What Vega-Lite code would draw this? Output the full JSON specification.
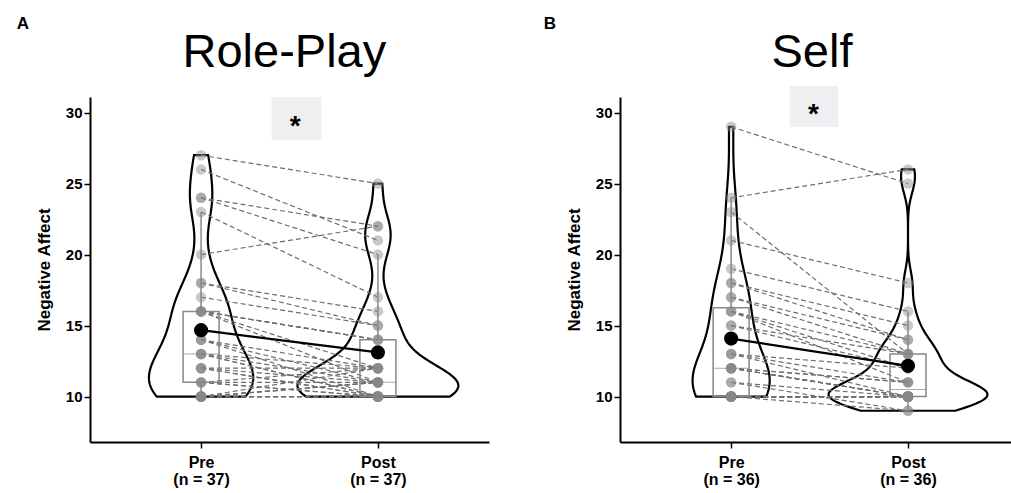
{
  "$schema": "https://vega.github.io/schema/vega-lite/v6.json",
  "padding": {"left": 16, "top": 15, "right": 0, "bottom": 0},
  "spacing": 54,
  "config": {
    "view": {"stroke": null},
    "font": "Liberation Sans",
    "axis": {"grid": false, "domainColor": "black", "domainWidth": 2, "tickColor": "black", "tickWidth": 1.5, "tickSize": 6, "labelColor": "black", "labelFont": "Liberation Sans", "labelFontWeight": "bold", "labelFontSize": 15, "titleFont": "Liberation Sans", "titleFontSize": 17, "titleFontWeight": "bold", "titleColor": "black"},
    "axisY": {"labelPadding": 2, "titlePadding": 12},
    "axisX": {"labelPadding": 6, "labelLineHeight": 17.5, "labelBaseline": "top", "labelFontSize": 16}
  },
  "data": {"values": [
    {"p":"A","id":1,"t":1,"v":27},{"p":"A","id":1,"t":2,"v":25},
    {"p":"A","id":2,"t":1,"v":26},{"p":"A","id":2,"t":2,"v":21},
    {"p":"A","id":3,"t":1,"v":24},{"p":"A","id":3,"t":2,"v":22},
    {"p":"A","id":4,"t":1,"v":24},{"p":"A","id":4,"t":2,"v":20},
    {"p":"A","id":5,"t":1,"v":23},{"p":"A","id":5,"t":2,"v":17},
    {"p":"A","id":6,"t":1,"v":20},{"p":"A","id":6,"t":2,"v":22},
    {"p":"A","id":7,"t":1,"v":18},{"p":"A","id":7,"t":2,"v":16},
    {"p":"A","id":8,"t":1,"v":18},{"p":"A","id":8,"t":2,"v":15},
    {"p":"A","id":9,"t":1,"v":17},{"p":"A","id":9,"t":2,"v":15},
    {"p":"A","id":10,"t":1,"v":16},{"p":"A","id":10,"t":2,"v":14},
    {"p":"A","id":11,"t":1,"v":16},{"p":"A","id":11,"t":2,"v":14},
    {"p":"A","id":12,"t":1,"v":16},{"p":"A","id":12,"t":2,"v":14},
    {"p":"A","id":13,"t":1,"v":16},{"p":"A","id":13,"t":2,"v":12},
    {"p":"A","id":14,"t":1,"v":16},{"p":"A","id":14,"t":2,"v":11},
    {"p":"A","id":15,"t":1,"v":14},{"p":"A","id":15,"t":2,"v":12},
    {"p":"A","id":16,"t":1,"v":14},{"p":"A","id":16,"t":2,"v":11},
    {"p":"A","id":17,"t":1,"v":14},{"p":"A","id":17,"t":2,"v":10},
    {"p":"A","id":18,"t":1,"v":13},{"p":"A","id":18,"t":2,"v":12},
    {"p":"A","id":19,"t":1,"v":13},{"p":"A","id":19,"t":2,"v":11},
    {"p":"A","id":20,"t":1,"v":13},{"p":"A","id":20,"t":2,"v":10},
    {"p":"A","id":21,"t":1,"v":13},{"p":"A","id":21,"t":2,"v":10},
    {"p":"A","id":22,"t":1,"v":12},{"p":"A","id":22,"t":2,"v":12},
    {"p":"A","id":23,"t":1,"v":12},{"p":"A","id":23,"t":2,"v":11},
    {"p":"A","id":24,"t":1,"v":12},{"p":"A","id":24,"t":2,"v":10},
    {"p":"A","id":25,"t":1,"v":12},{"p":"A","id":25,"t":2,"v":10},
    {"p":"A","id":26,"t":1,"v":11},{"p":"A","id":26,"t":2,"v":12},
    {"p":"A","id":27,"t":1,"v":11},{"p":"A","id":27,"t":2,"v":11},
    {"p":"A","id":28,"t":1,"v":11},{"p":"A","id":28,"t":2,"v":10},
    {"p":"A","id":29,"t":1,"v":11},{"p":"A","id":29,"t":2,"v":10},
    {"p":"A","id":30,"t":1,"v":10},{"p":"A","id":30,"t":2,"v":11},
    {"p":"A","id":31,"t":1,"v":10},{"p":"A","id":31,"t":2,"v":11},
    {"p":"A","id":32,"t":1,"v":10},{"p":"A","id":32,"t":2,"v":11},
    {"p":"A","id":33,"t":1,"v":10},{"p":"A","id":33,"t":2,"v":12},
    {"p":"A","id":34,"t":1,"v":10},{"p":"A","id":34,"t":2,"v":10},
    {"p":"A","id":35,"t":1,"v":10},{"p":"A","id":35,"t":2,"v":10},
    {"p":"A","id":36,"t":1,"v":10},{"p":"A","id":36,"t":2,"v":10},
    {"p":"A","id":37,"t":1,"v":10},{"p":"A","id":37,"t":2,"v":10},
    {"p":"B","id":1,"t":1,"v":29},{"p":"B","id":1,"t":2,"v":25},
    {"p":"B","id":2,"t":1,"v":24},{"p":"B","id":2,"t":2,"v":26},
    {"p":"B","id":3,"t":1,"v":23},{"p":"B","id":3,"t":2,"v":13},
    {"p":"B","id":4,"t":1,"v":21},{"p":"B","id":4,"t":2,"v":18},
    {"p":"B","id":5,"t":1,"v":19},{"p":"B","id":5,"t":2,"v":16},
    {"p":"B","id":6,"t":1,"v":18},{"p":"B","id":6,"t":2,"v":15},
    {"p":"B","id":7,"t":1,"v":18},{"p":"B","id":7,"t":2,"v":14},
    {"p":"B","id":8,"t":1,"v":17},{"p":"B","id":8,"t":2,"v":14},
    {"p":"B","id":9,"t":1,"v":17},{"p":"B","id":9,"t":2,"v":13},
    {"p":"B","id":10,"t":1,"v":16},{"p":"B","id":10,"t":2,"v":13},
    {"p":"B","id":11,"t":1,"v":16},{"p":"B","id":11,"t":2,"v":12},
    {"p":"B","id":12,"t":1,"v":16},{"p":"B","id":12,"t":2,"v":11},
    {"p":"B","id":13,"t":1,"v":15},{"p":"B","id":13,"t":2,"v":13},
    {"p":"B","id":14,"t":1,"v":15},{"p":"B","id":14,"t":2,"v":12},
    {"p":"B","id":15,"t":1,"v":13},{"p":"B","id":15,"t":2,"v":12},
    {"p":"B","id":16,"t":1,"v":13},{"p":"B","id":16,"t":2,"v":11},
    {"p":"B","id":17,"t":1,"v":13},{"p":"B","id":17,"t":2,"v":10},
    {"p":"B","id":18,"t":1,"v":12},{"p":"B","id":18,"t":2,"v":11},
    {"p":"B","id":19,"t":1,"v":12},{"p":"B","id":19,"t":2,"v":11},
    {"p":"B","id":20,"t":1,"v":12},{"p":"B","id":20,"t":2,"v":10},
    {"p":"B","id":21,"t":1,"v":12},{"p":"B","id":21,"t":2,"v":10},
    {"p":"B","id":22,"t":1,"v":12},{"p":"B","id":22,"t":2,"v":10},
    {"p":"B","id":23,"t":1,"v":12},{"p":"B","id":23,"t":2,"v":10},
    {"p":"B","id":24,"t":1,"v":11},{"p":"B","id":24,"t":2,"v":10},
    {"p":"B","id":25,"t":1,"v":11},{"p":"B","id":25,"t":2,"v":9},
    {"p":"B","id":26,"t":1,"v":10},{"p":"B","id":26,"t":2,"v":10},
    {"p":"B","id":27,"t":1,"v":10},{"p":"B","id":27,"t":2,"v":10},
    {"p":"B","id":28,"t":1,"v":10},{"p":"B","id":28,"t":2,"v":10},
    {"p":"B","id":29,"t":1,"v":10},{"p":"B","id":29,"t":2,"v":10},
    {"p":"B","id":30,"t":1,"v":10},{"p":"B","id":30,"t":2,"v":10},
    {"p":"B","id":31,"t":1,"v":10},{"p":"B","id":31,"t":2,"v":10},
    {"p":"B","id":32,"t":1,"v":10},{"p":"B","id":32,"t":2,"v":10},
    {"p":"B","id":33,"t":1,"v":10},{"p":"B","id":33,"t":2,"v":10},
    {"p":"B","id":34,"t":1,"v":10},{"p":"B","id":34,"t":2,"v":10},
    {"p":"B","id":35,"t":1,"v":10},{"p":"B","id":35,"t":2,"v":10},
    {"p":"B","id":36,"t":1,"v":10},{"p":"B","id":36,"t":2,"v":9}
  ]},
  "hconcat": [
    {
      "width": 399, "height": 345,
      "transform": [{"filter": "datum.p == 'A'"}],
      "layer": [
        {
          "transform": [
            {"filter": "datum.t == 1"},
            {"density": "v", "bandwidth": 1.63, "extent": [10, 27], "steps": 200, "as": ["dv", "dens"]},
            {"joinaggregate": [{"op": "max", "field": "dens", "as": "dmax"}]},
            {"calculate": "1 - 0.295 * datum.dens / datum.dmax", "as": "xl"},
            {"calculate": "1 + 0.295 * datum.dens / datum.dmax", "as": "xr"}
          ],
          "mark": {"type": "area", "orient": "horizontal", "fillOpacity": 0, "stroke": "black", "strokeWidth": 2.2},
          "encoding": {
            "y": {"field": "dv", "type": "quantitative", "scale": {"domain": [6.8, 31.1], "nice": false, "zero": false}, "axis": {"values": [10, 15, 20, 25, 30]}, "title": "Negative Affect"},
            "x": {"field": "xl", "type": "quantitative", "scale": {"domain": [0.4, 2.6], "nice": false, "zero": false}, "axis": {"values": [1, 2], "labelExpr": "datum.value == 1 ? ['Pre', '(n = 37)'] : ['Post', '(n = 37)']"}, "title": null},
            "x2": {"field": "xr"}
          }
        },
        {
          "transform": [
            {"filter": "datum.t == 2"},
            {"density": "v", "bandwidth": 1.31, "extent": [10, 25], "steps": 200, "as": ["dv", "dens"]},
            {"joinaggregate": [{"op": "max", "field": "dens", "as": "dmax"}]},
            {"calculate": "2 - 0.455 * datum.dens / datum.dmax", "as": "xl"},
            {"calculate": "2 + 0.455 * datum.dens / datum.dmax", "as": "xr"}
          ],
          "mark": {"type": "area", "orient": "horizontal", "fillOpacity": 0, "stroke": "black", "strokeWidth": 2.2},
          "encoding": {
            "y": {"field": "dv", "type": "quantitative", "title": "Negative Affect"},
            "x": {"field": "xl", "type": "quantitative", "title": null},
            "x2": {"field": "xr"}
          }
        },
        {
          "mark": {"type": "line", "color": "#6e6e6e", "strokeWidth": 1.2, "strokeDash": [5, 3]},
          "encoding": {
            "x": {"field": "t", "type": "quantitative", "title": null},
            "y": {"field": "v", "type": "quantitative", "title": "Negative Affect"},
            "detail": {"field": "id"}
          }
        },
        {
          "mark": {"type": "boxplot", "extent": 1.5, "size": 36, "outliers": false, "ticks": false,
                   "box": {"fillOpacity": 0, "stroke": "#888888", "strokeWidth": 1.5},
                   "median": {"color": "#888888", "strokeWidth": 1.5},
                   "rule": {"color": "#888888", "strokeWidth": 1.5}},
          "encoding": {
            "x": {"field": "t", "type": "quantitative", "title": null},
            "y": {"field": "v", "type": "quantitative", "aggregate": "boxplot", "title": "Negative Affect"}
          }
        },
        {
          "mark": {"type": "circle", "size": 110, "color": "#888888", "opacity": 0.45},
          "encoding": {
            "x": {"field": "t", "type": "quantitative", "title": null},
            "y": {"field": "v", "type": "quantitative", "title": "Negative Affect"}
          }
        },
        {
          "mark": {"type": "line", "color": "black", "strokeWidth": 2.2},
          "encoding": {
            "x": {"field": "t", "type": "quantitative", "title": null},
            "y": {"field": "v", "aggregate": "mean", "type": "quantitative", "title": "Negative Affect"}
          }
        },
        {
          "mark": {"type": "circle", "size": 200, "color": "black", "opacity": 1},
          "encoding": {
            "x": {"field": "t", "type": "quantitative", "title": null},
            "y": {"field": "v", "aggregate": "mean", "type": "quantitative", "title": "Negative Affect"}
          }
        },
        {
          "data": {"values": [{"label": "*"}]},
          "layer": [
            {
              "mark": {"type": "rect", "color": "#efeff1"},
              "encoding": {
                "x": {"datum": 1.399, "type": "quantitative"},
                "x2": {"datum": 1.68},
                "y": {"datum": 31.1, "type": "quantitative"},
                "y2": {"datum": 28.07}
              }
            },
            {
              "mark": {"type": "text", "fontSize": 28, "fontWeight": "bold", "color": "black", "baseline": "middle", "dy": 7},
              "encoding": {
                "text": {"field": "label"},
                "x": {"datum": 1.532, "type": "quantitative"},
                "y": {"datum": 29.45, "type": "quantitative"}
              }
            },
            {
              "mark": {"type": "text", "text": "Role-Play", "fontSize": 47, "fontWeight": "normal", "color": "black", "baseline": "alphabetic", "align": "center"},
              "encoding": {
                "x": {"datum": 1.471, "type": "quantitative"},
                "y": {"datum": 33.21, "type": "quantitative"}
              }
            },
            {
              "mark": {"type": "text", "text": "A", "fontSize": 17, "fontWeight": "bold", "color": "black", "baseline": "middle", "align": "center"},
              "encoding": {
                "x": {"datum": -0.008, "type": "quantitative"},
                "y": {"datum": 36.24, "type": "quantitative"}
              }
            }
          ]
        }
      ]
    },
    {
      "width": 391, "height": 345,
      "transform": [{"filter": "datum.p == 'B'"}],
      "layer": [
        {
          "transform": [
            {"filter": "datum.t == 1"},
            {"density": "v", "bandwidth": 2.05, "extent": [10, 29], "steps": 200, "as": ["dv", "dens"]},
            {"joinaggregate": [{"op": "max", "field": "dens", "as": "dmax"}]},
            {"calculate": "1 - 0.218 * datum.dens / datum.dmax", "as": "xl"},
            {"calculate": "1 + 0.218 * datum.dens / datum.dmax", "as": "xr"}
          ],
          "mark": {"type": "area", "orient": "horizontal", "fillOpacity": 0, "stroke": "black", "strokeWidth": 2.2},
          "encoding": {
            "y": {"field": "dv", "type": "quantitative", "scale": {"domain": [6.8, 31.1], "nice": false, "zero": false}, "axis": {"values": [10, 15, 20, 25, 30]}, "title": "Negative Affect"},
            "x": {"field": "xl", "type": "quantitative", "scale": {"domain": [0.4, 2.554], "nice": false, "zero": false}, "axis": {"values": [1, 2], "labelExpr": "datum.value == 1 ? ['Pre', '(n = 36)'] : ['Post', '(n = 36)']"}, "title": null},
            "x2": {"field": "xr"}
          }
        },
        {
          "transform": [
            {"filter": "datum.t == 2"},
            {"density": "v", "bandwidth": 0.98, "extent": [9, 26], "steps": 200, "as": ["dv", "dens"]},
            {"joinaggregate": [{"op": "max", "field": "dens", "as": "dmax"}]},
            {"calculate": "2 - 0.449 * datum.dens / datum.dmax", "as": "xl"},
            {"calculate": "2 + 0.449 * datum.dens / datum.dmax", "as": "xr"}
          ],
          "mark": {"type": "area", "orient": "horizontal", "fillOpacity": 0, "stroke": "black", "strokeWidth": 2.2},
          "encoding": {
            "y": {"field": "dv", "type": "quantitative", "title": "Negative Affect"},
            "x": {"field": "xl", "type": "quantitative", "title": null},
            "x2": {"field": "xr"}
          }
        },
        {
          "mark": {"type": "line", "color": "#6e6e6e", "strokeWidth": 1.2, "strokeDash": [5, 3]},
          "encoding": {
            "x": {"field": "t", "type": "quantitative", "title": null},
            "y": {"field": "v", "type": "quantitative", "title": "Negative Affect"},
            "detail": {"field": "id"}
          }
        },
        {
          "mark": {"type": "boxplot", "extent": 1.5, "size": 36, "outliers": false, "ticks": false,
                   "box": {"fillOpacity": 0, "stroke": "#888888", "strokeWidth": 1.5},
                   "median": {"color": "#888888", "strokeWidth": 1.5},
                   "rule": {"color": "#888888", "strokeWidth": 1.5}},
          "encoding": {
            "x": {"field": "t", "type": "quantitative", "title": null},
            "y": {"field": "v", "type": "quantitative", "aggregate": "boxplot", "title": "Negative Affect"}
          }
        },
        {
          "mark": {"type": "circle", "size": 110, "color": "#888888", "opacity": 0.45},
          "encoding": {
            "x": {"field": "t", "type": "quantitative", "title": null},
            "y": {"field": "v", "type": "quantitative", "title": "Negative Affect"}
          }
        },
        {
          "mark": {"type": "line", "color": "black", "strokeWidth": 2.2},
          "encoding": {
            "x": {"field": "t", "type": "quantitative", "title": null},
            "y": {"field": "v", "aggregate": "mean", "type": "quantitative", "title": "Negative Affect"}
          }
        },
        {
          "mark": {"type": "circle", "size": 200, "color": "black", "opacity": 1},
          "encoding": {
            "x": {"field": "t", "type": "quantitative", "title": null},
            "y": {"field": "v", "aggregate": "mean", "type": "quantitative", "title": "Negative Affect"}
          }
        },
        {
          "data": {"values": [{"label": "*"}]},
          "layer": [
            {
              "mark": {"type": "rect", "color": "#efeff1"},
              "encoding": {
                "x": {"datum": 1.331, "type": "quantitative"},
                "x2": {"datum": 1.606},
                "y": {"datum": 31.87, "type": "quantitative"},
                "y2": {"datum": 28.99}
              }
            },
            {
              "mark": {"type": "text", "fontSize": 28, "fontWeight": "bold", "color": "black", "baseline": "middle", "dy": 7},
              "encoding": {
                "text": {"field": "label"},
                "x": {"datum": 1.465, "type": "quantitative"},
                "y": {"datum": 30.3, "type": "quantitative"}
              }
            },
            {
              "mark": {"type": "text", "text": "Self", "fontSize": 47, "fontWeight": "normal", "color": "black", "baseline": "alphabetic", "align": "center"},
              "encoding": {
                "x": {"datum": 1.457, "type": "quantitative"},
                "y": {"datum": 33.21, "type": "quantitative"}
              }
            },
            {
              "mark": {"type": "text", "text": "B", "fontSize": 17, "fontWeight": "bold", "color": "black", "baseline": "middle", "align": "center"},
              "encoding": {
                "x": {"datum": -0.025, "type": "quantitative"},
                "y": {"datum": 36.24, "type": "quantitative"}
              }
            }
          ]
        }
      ]
    }
  ]
}
